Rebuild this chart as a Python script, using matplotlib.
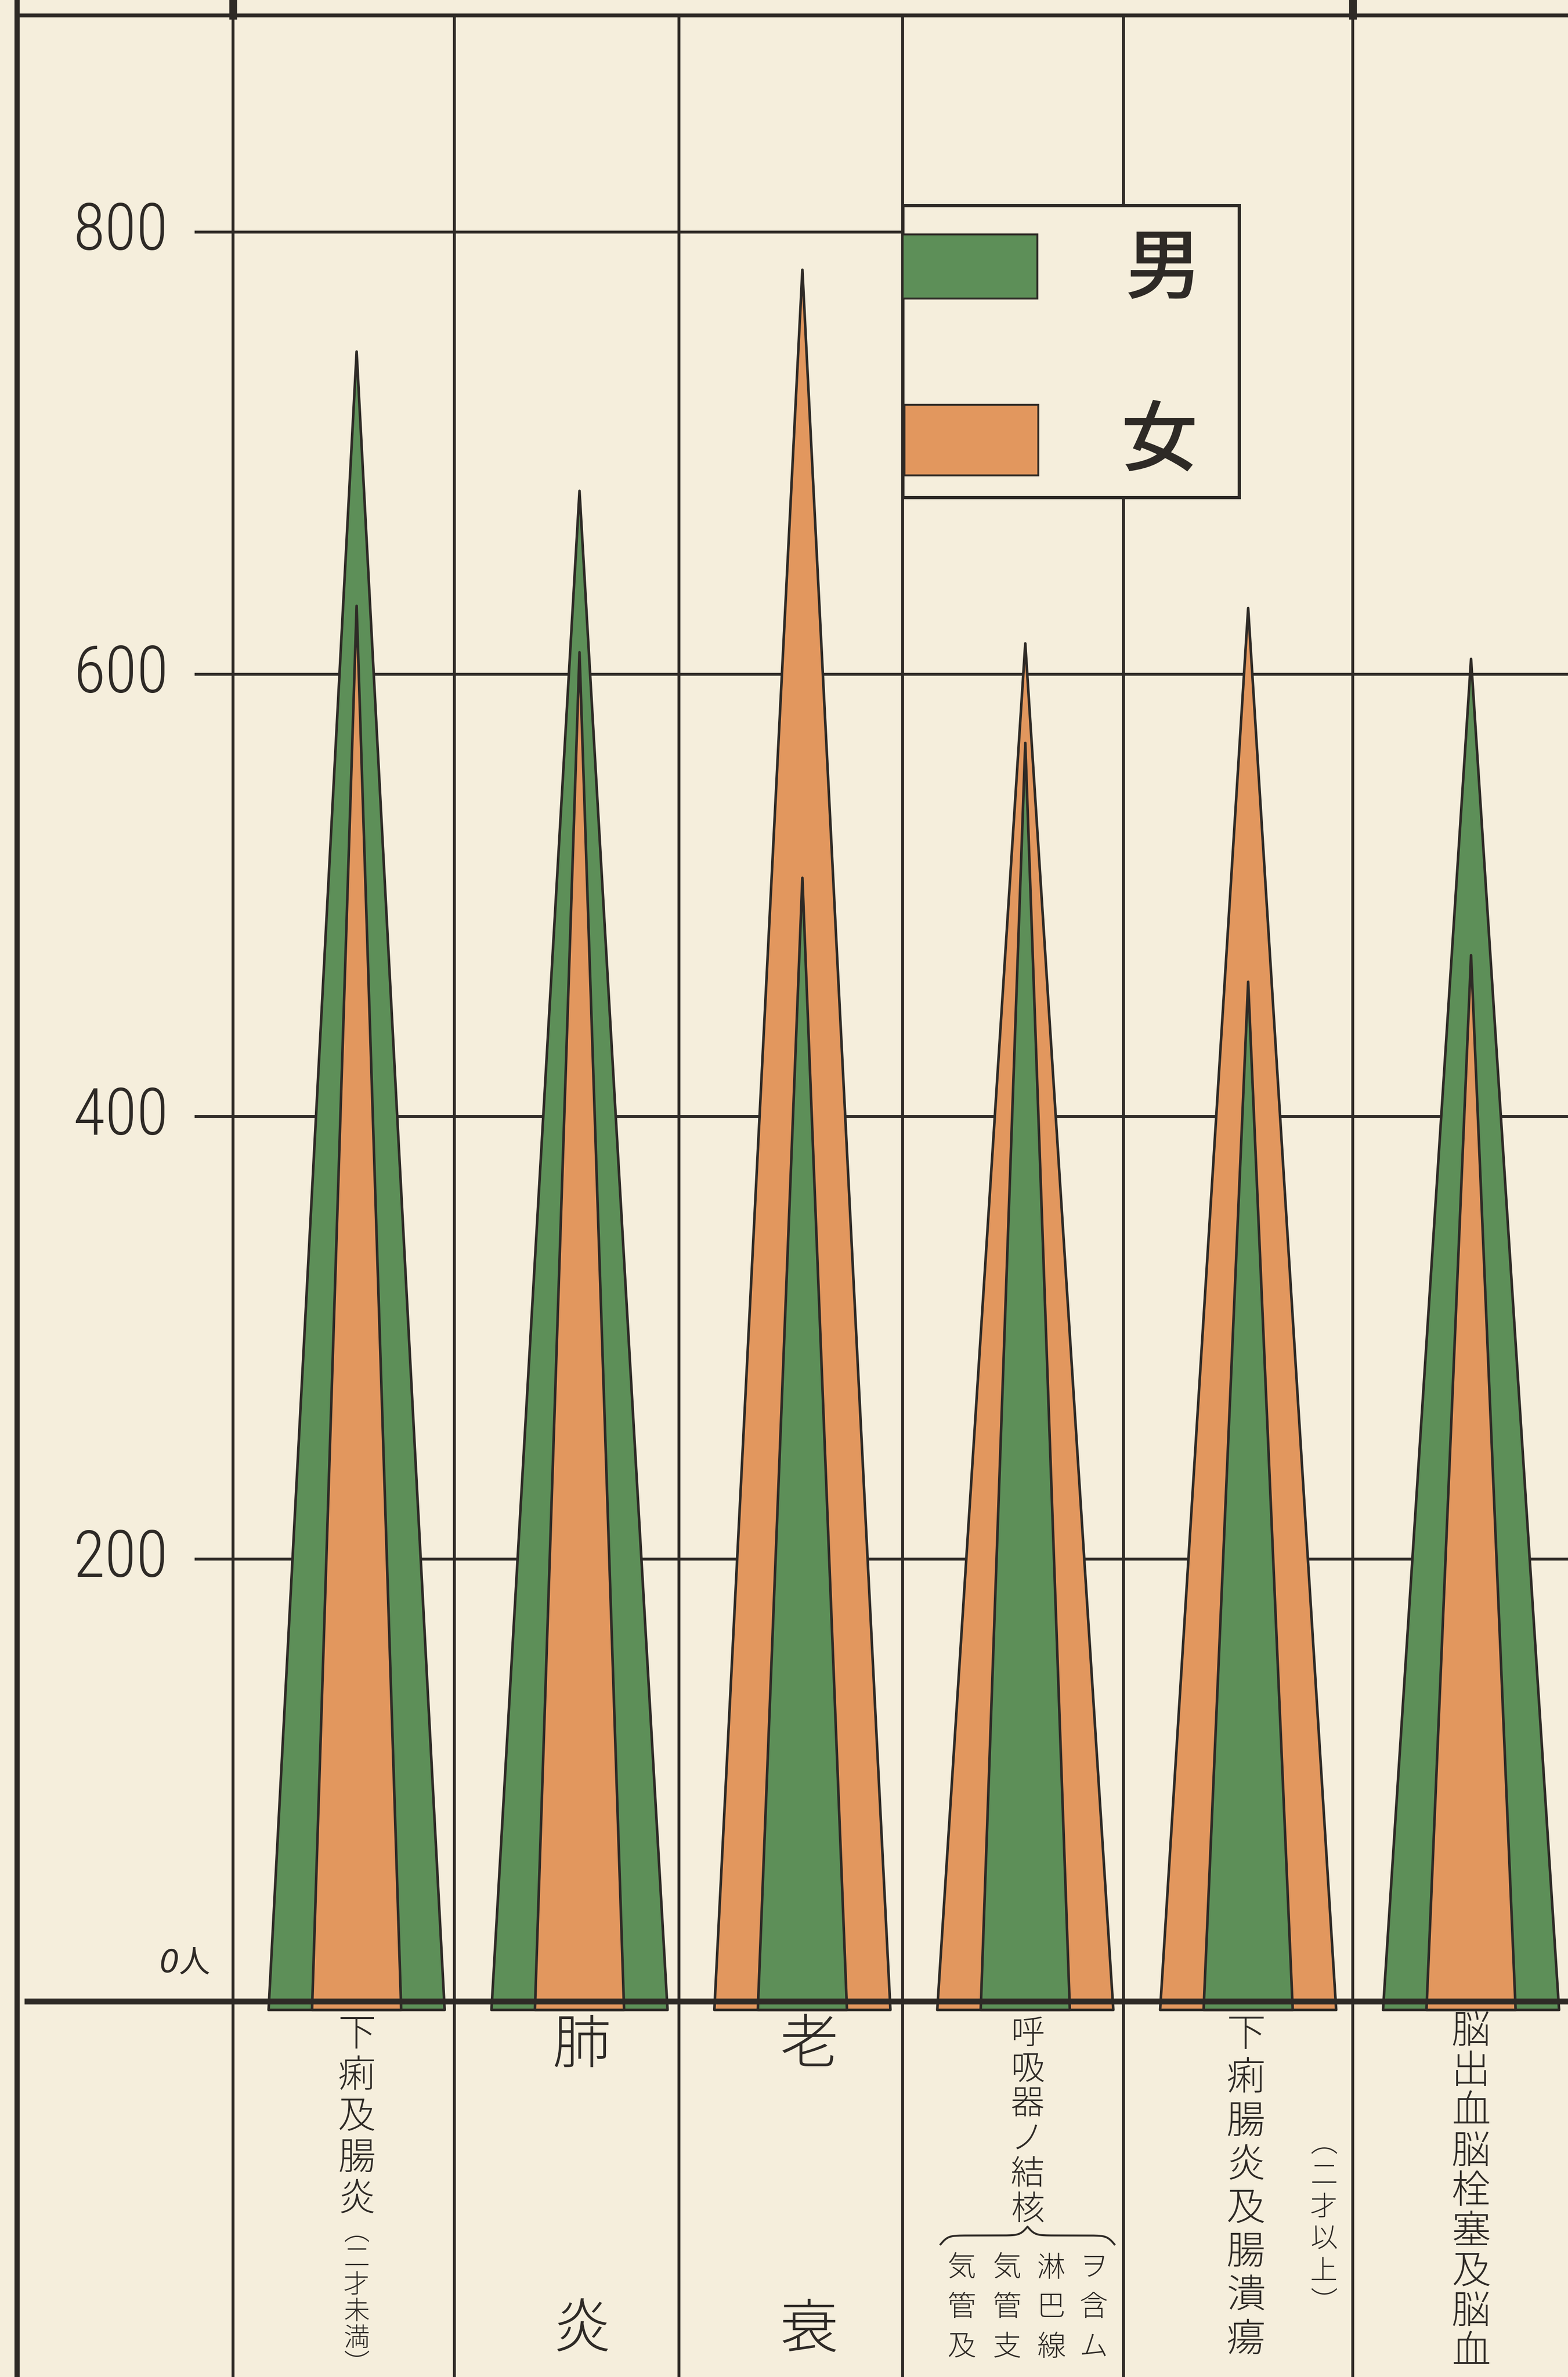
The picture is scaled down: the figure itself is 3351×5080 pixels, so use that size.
import numpy as np
import matplotlib
matplotlib.use('Agg')
import matplotlib.pyplot as plt
from matplotlib.patches import Polygon, Rectangle

plt.rcParams['font.family'] = ['Noto Sans CJK JP', 'DejaVu Sans']

# data (deaths, persons)
causes = ['下痢及腸炎(二才未満)', '肺炎', '老衰', '呼吸器ノ結核',
          '下痢腸炎及腸潰瘍(二才以上)', '脳出血脳栓塞及脳血']
male = [746, 683, 508, 569, 461, 607]
female = [631, 610, 783, 614, 630, 473]
yticks = [200, 400, 600, 800]
sexes = ['男', '女']

PAPER = '#f5eedc'
INK = '#2e2a26'
GREEN = '#5d8f58'
ORANGE = '#e2975e'

fig = plt.figure(figsize=(33.51, 50.80), dpi=100, facecolor=PAPER)
ax = fig.add_axes([0, 0, 1, 1])
ax.set_facecolor(PAPER)
ax.set_xlim(-1.60, 5.435)
ax.set_ylim(-170, 905)
ax.axis('off')

x = np.arange(len(causes))
seps = [-0.555, 0.438, 1.446, 2.449, 3.44, 4.47]
left, right, top = -1.524, 5.435, 898
leg_l, leg_r, leg_b, leg_t = 2.449, 3.96, 680, 812

# frame and grid
ax.plot([left, left], [-170, 905], color=INK, lw=8, zorder=1)
ax.plot([left, right], [top, top], color=INK, lw=6, zorder=1)
for i, s in enumerate(seps):
    ax.plot([s, s], [-170, top], color=INK, lw=4.5, zorder=1)
    if i in (0, 5):
        ax.plot([s, s], [top, 905], color=INK, lw=12, zorder=1)
for v in yticks:
    x_end = leg_l if v > leg_b else right
    ax.plot([-0.72, x_end], [v, v], color=INK, lw=4.5, zorder=1)
    ax.text(-0.845, v, str(v), ha='right', va='center', fontsize=100,
            family=['Roboto Condensed', 'Roboto', 'DejaVu Sans'],
            fontweight='light', color=INK)
ax.text(-0.655, 10, '0人', ha='right', va='bottom', fontsize=48,
        family=['DejaVu Sans', 'Noto Sans CJK JP'], style='italic', color=INK)

# spikes: the taller one is drawn wide at the back
wide, narrow, base = 0.395, 0.20, -4


def spike(xc, h, half, color, z):
    ax.add_patch(Polygon([[xc - half, base], [xc, h], [xc + half, base]],
                         closed=True, fc=color, ec=INK, lw=4,
                         joinstyle='round', zorder=z))


for xc, m, f in zip(x, male, female):
    if m >= f:
        spike(xc, m, wide, GREEN, 2)
        spike(xc, f, narrow, ORANGE, 3)
    else:
        spike(xc, f, wide, ORANGE, 2)
        spike(xc, m, narrow, GREEN, 3)

ax.plot([-1.49, right], [0, 0], color=INK, lw=9, zorder=4,
        solid_capstyle='butt')

# legend
ax.add_patch(Rectangle((leg_l, leg_b), leg_r - leg_l, leg_t - leg_b,
                       fc=PAPER, ec=INK, lw=5, zorder=5))
ax.add_patch(Rectangle((leg_l, 770), 0.605, 29, fc=GREEN, ec=INK,
                       lw=3, zorder=6))
ax.add_patch(Rectangle((leg_l + 0.01, 690), 0.6, 32, fc=ORANGE, ec=INK,
                       lw=3, zorder=6))
ax.text(3.62, 783, sexes[0], ha='center', va='center', fontsize=118,
        fontweight='medium', color=INK, zorder=7)
ax.text(3.60, 705, sexes[1], ha='center', va='center', fontsize=118,
        fontweight='medium', color=INK, zorder=7)


# category labels, written top to bottom
def column(xc, y0, step, chars, size):
    for k, ch in enumerate(chars):
        ax.text(xc, y0 - k * step, ch, ha='center', va='center',
                fontsize=size, fontweight='light', color=INK)


column(x[0], -15.4, 18.6, '下痢及腸炎', 58)
column(x[0], -104.5, 12.0, '︵二才未満︶', 40)
column(x[1] + 0.01, -20.5, 128.5, '肺炎', 90)
column(x[2] + 0.03, -20.5, 128.5, '老衰', 90)
column(x[3] + 0.01, -15.0, 15.9, '呼吸器ノ結核', 52)
for dx, sub in zip([-0.286, -0.082, 0.116, 0.306],
                   ['気管及', '気管支', '淋巴線', 'ヲ含ム']):
    column(x[3] + dx, -120.8, 17.9, sub, 44)


def brace(x0, x1, y, h, beta=60):
    xs = np.linspace(x0, x1, 301)
    half = xs[:151]
    yh = (1 / (1 + np.exp(-beta * (half - half[0])))
          + 1 / (1 + np.exp(-beta * (half - half[-1]))))
    yh = (yh - yh[0]) / (yh[-1] - yh[0])
    yy = np.concatenate((yh, yh[-2::-1]))
    ax.plot(xs, y + h * yy, color=INK, lw=3)


brace(x[3] - 0.38, x[3] + 0.40, -110, 8)
column(x[4] - 0.01, -15.4, 19.7, '下痢腸炎及腸潰瘍', 60)
column(x[4] + 0.34, -64.7, 14.4, '︵二才以上︶', 42)
column(x[5], -14.0, 18.1, '脳出血脳栓塞及脳血', 60)

fig.savefig('out.png', dpi=100, facecolor=PAPER)
